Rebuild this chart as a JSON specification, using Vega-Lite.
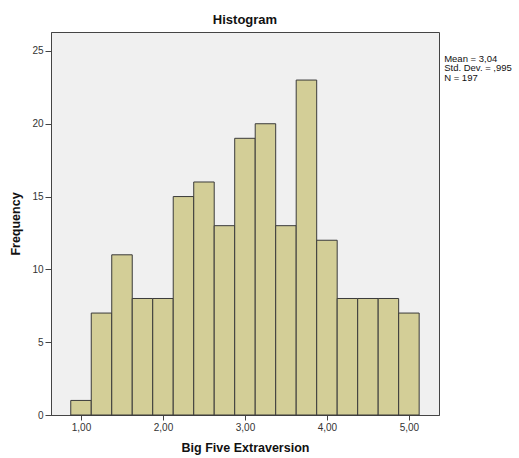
{
  "$schema": "https://vega.github.io/schema/vega-lite/v6.json",
  "width": 388,
  "height": 383,
  "autosize": "none",
  "padding": {"left": 51, "top": 32, "right": 80, "bottom": 43},
  "background": "white",
  "config": {
    "font": "Liberation Sans",
    "view": {"fill": "#f0f0f0", "stroke": "#444444", "strokeWidth": 1},
    "axis": {"grid": false, "domainColor": "#444444", "tickColor": "#444444", "labelColor": "#333333", "labelFont": "Liberation Sans", "labelFontSize": 10, "titleFont": "Liberation Sans", "titleFontWeight": "bold", "titleFontSize": 12.5, "titleColor": "#111111"}
  },
  "title": {"text": "Histogram", "fontSize": 13, "fontWeight": "bold", "font": "Liberation Sans", "anchor": "middle", "offset": 5, "color": "#111111"},
  "layer": [
    {
      "data": {
        "values": [
          {"x0": 0.875, "x1": 1.125, "count": 1},
          {"x0": 1.125, "x1": 1.375, "count": 7},
          {"x0": 1.375, "x1": 1.625, "count": 11},
          {"x0": 1.625, "x1": 1.875, "count": 8},
          {"x0": 1.875, "x1": 2.125, "count": 8},
          {"x0": 2.125, "x1": 2.375, "count": 15},
          {"x0": 2.375, "x1": 2.625, "count": 16},
          {"x0": 2.625, "x1": 2.875, "count": 13},
          {"x0": 2.875, "x1": 3.125, "count": 19},
          {"x0": 3.125, "x1": 3.375, "count": 20},
          {"x0": 3.375, "x1": 3.625, "count": 13},
          {"x0": 3.625, "x1": 3.875, "count": 23},
          {"x0": 3.875, "x1": 4.125, "count": 12},
          {"x0": 4.125, "x1": 4.375, "count": 8},
          {"x0": 4.375, "x1": 4.625, "count": 8},
          {"x0": 4.625, "x1": 4.875, "count": 8},
          {"x0": 4.875, "x1": 5.125, "count": 7}
        ]
      },
      "mark": {"type": "bar", "fill": "#d3ce97", "stroke": "#3a3a3a", "strokeWidth": 1},
      "encoding": {
        "x": {
          "field": "x0", "type": "quantitative",
          "scale": {"domain": [0.634, 5.367], "nice": false, "zero": false},
          "axis": {"values": [1, 2, 3, 4, 5], "labelExpr": "replace(format(datum.value, '.2f'), '.', ',')", "tickSize": 5, "labelPadding": 2, "title": "Big Five Extraversion", "titlePadding": 9}
        },
        "x2": {"field": "x1"},
        "y": {
          "field": "count", "type": "quantitative",
          "scale": {"domain": [0, 26.3], "nice": false},
          "axis": {"values": [0, 5, 10, 15, 20, 25], "tickSize": 6, "labelPadding": 2, "title": "Frequency", "titlePadding": 9}
        },
        "y2": {"datum": 0}
      }
    },
    {
      "data": {"values": [{"stats": ["Mean = 3,04", "Std. Dev. = ,995", "N = 197"]}]},
      "mark": {"type": "text", "align": "left", "baseline": "top", "fontSize": 9.5, "lineHeight": 9.5, "fill": "#111111", "clip": false, "font": "Liberation Sans"},
      "encoding": {
        "text": {"field": "stats"},
        "x": {"datum": 5.43},
        "y": {"datum": 24.8}
      }
    }
  ]
}
